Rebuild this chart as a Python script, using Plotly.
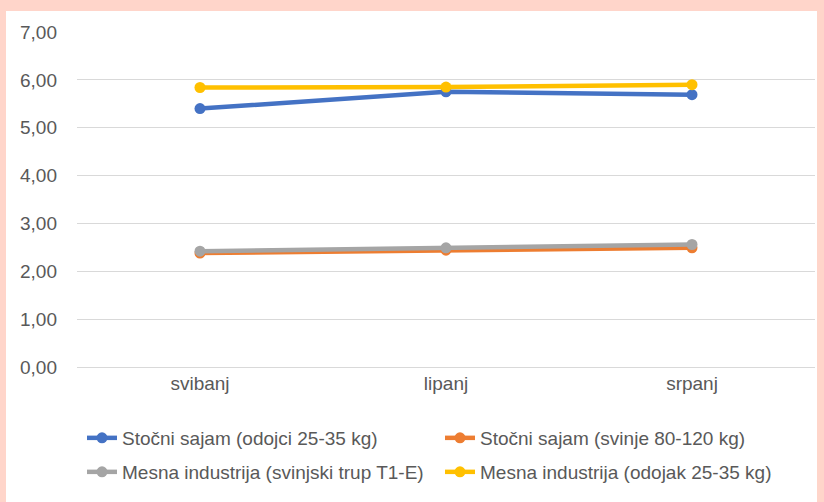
import plotly.graph_objects as go

months = ["svibanj", "lipanj", "srpanj"]
series_names = [
    "Stočni sajam (odojci 25-35 kg)",
    "Stočni sajam (svinje 80-120 kg)",
    "Mesna industrija (svinjski trup T1-E)",
    "Mesna industrija (odojak 25-35 kg)",
]
odojci_sajam = [5.40, 5.75, 5.69]
svinje_sajam = [2.38, 2.44, 2.49]
trup_industrija = [2.42, 2.49, 2.56]
odojak_industrija = [5.84, 5.85, 5.90]
y_ticks = [0, 1, 2, 3, 4, 5, 6, 7]

colors = ["#4472C4", "#ED7D31", "#A5A5A5", "#FFC000"]
values = [odojci_sajam, svinje_sajam, trup_industrija, odojak_industrija]
legends = ["legend", "legend", "legend2", "legend2"]

W, H = 824, 502
L, R, T, B = 77, 9, 32, 135
pw, ph = W - L - R, H - T - B

def px_x(x):
    return (x - L) / pw

def px_y(y):
    return (H - B - y) / ph

FONT = "Liberation Sans Narrow, Arial Narrow, Liberation Sans, sans-serif"
TXT = "#595959"

fig = go.Figure()
for name, vals, c, lg in zip(series_names, values, colors, legends):
    fig.add_trace(go.Scatter(
        x=months, y=vals, name=name, mode="lines+markers",
        line=dict(color=c, width=4.5),
        marker=dict(color=c, size=11),
        legend=lg,
    ))

fig.update_layout(
    width=W, height=H,
    margin=dict(l=L, r=R, t=T, b=B, autoexpand=False),
    paper_bgcolor="#FFD5CA",
    plot_bgcolor="rgba(0,0,0,0)",
    separators=",.",
    font=dict(family=FONT, size=19, color=TXT),
    showlegend=True,
    shapes=[dict(type="rect", xref="paper", yref="paper",
                 x0=px_x(6), x1=px_x(817), y0=px_y(H + 5), y1=px_y(11),
                 fillcolor="white", line=dict(width=0), layer="below")],
    legend=dict(orientation="h", x=px_x(82), xanchor="left",
                y=px_y(438), yanchor="middle", entrywidth=313,
                font=dict(family=FONT, size=19, color=TXT),
                bgcolor="rgba(0,0,0,0)", itemclick=False),
    legend2=dict(orientation="h", x=px_x(82), xanchor="left",
                 y=px_y(472), yanchor="middle", entrywidth=313,
                 font=dict(family=FONT, size=19, color=TXT),
                 bgcolor="rgba(0,0,0,0)", itemclick=False),
)
fig.update_xaxes(type="category", range=[-0.5, 2.5], showgrid=False,
                 showline=False, ticks="", tickfont=dict(size=19, color=TXT),
                 ticklabelstandoff=3)
fig.update_yaxes(range=[0, 7], tickvals=y_ticks, tickformat=".2f",
                 showgrid=True, gridcolor="#D9D9D9", gridwidth=1.3,
                 zeroline=True, zerolinecolor="#D9D9D9", zerolinewidth=1.3,
                 showline=False, ticks="", ticklabelstandoff=19,
                 tickfont=dict(size=19, color=TXT))

fig.write_html("out.html", config={"displayModeBar": False},
               post_script="document.body.style.margin='0';document.body.style.overflow='hidden';")
